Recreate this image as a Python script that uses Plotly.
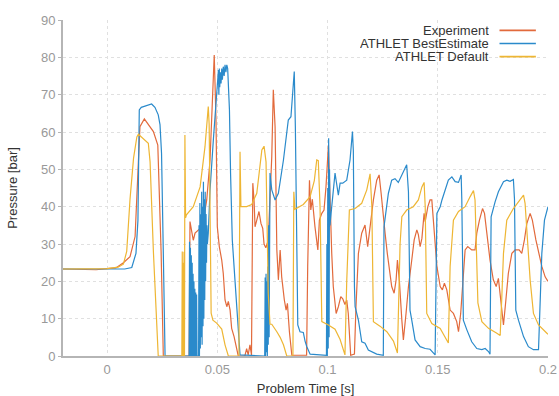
import plotly.graph_objects as go

# ---------------- data (time [s], pressure [bar]) ----------------
exp_t = [-0.02, -0.01, -0.005, 0.0, 0.004, 0.0074, 0.0104, 0.0127, 0.0135, 0.0142, 0.0149, 0.0169,
         0.0187, 0.0210, 0.0230, 0.0245, 0.0255, 0.0372, 0.0376, 0.0391, 0.0399, 0.0422, 0.0437,
         0.0452, 0.0467, 0.0475, 0.0486, 0.0494, 0.0500, 0.0509, 0.0520, 0.0527, 0.0535, 0.0543,
         0.0550, 0.0558, 0.0565, 0.0576, 0.0588, 0.0595, 0.0625, 0.0633, 0.0640, 0.0648, 0.0655,
         0.0661, 0.0667, 0.0671, 0.0679, 0.0689, 0.0698, 0.0706, 0.0712, 0.0720, 0.0731, 0.0739,
         0.0747, 0.0754, 0.0762, 0.0770, 0.0777, 0.0785, 0.0792, 0.0804, 0.0812, 0.0818, 0.0827,
         0.0838, 0.0905, 0.0910, 0.0918, 0.0924, 0.0931, 0.0943, 0.0956, 0.0963, 0.0974, 0.0984,
         0.0993, 0.1004, 0.1011, 0.1019, 0.1026, 0.1039, 0.1049, 0.1060, 0.1069, 0.1079, 0.1087,
         0.1094, 0.1105, 0.1122, 0.1129, 0.1140, 0.1155, 0.1170, 0.1182, 0.1193, 0.1208, 0.1223,
         0.1234, 0.1243, 0.1251, 0.1261, 0.1271, 0.1280, 0.1291, 0.1302, 0.1311, 0.1317, 0.1326,
         0.1337, 0.1344, 0.1356, 0.1367, 0.1382, 0.1393, 0.1405, 0.1412, 0.1420, 0.1428, 0.1438,
         0.1443, 0.1455, 0.1465, 0.1473, 0.1480, 0.1496, 0.1511, 0.1521, 0.1530, 0.1541, 0.1556,
         0.1571, 0.1586, 0.1594, 0.1604, 0.1614, 0.1624, 0.1636, 0.1654, 0.1669, 0.1677, 0.1689,
         0.1703, 0.1712, 0.1722, 0.1737, 0.1752, 0.1765, 0.1775, 0.1787, 0.1798, 0.1809, 0.1820,
         0.1836, 0.1851, 0.1869, 0.1881, 0.1893, 0.1904, 0.1919, 0.1929, 0.1945, 0.1957, 0.1972,
         0.1987, 0.2000]
exp_p = [23.3, 23.2, 23.1, 23.4, 23.6, 25.0, 26.6, 32.0, 42.0, 54.3, 61.4, 63.5,
         61.9, 60.1, 56.5, 28.0, 0.0, 0.0, 36.0, 31.0, 32.9, 34.2, 36.4,
         41.8, 52.5, 66.8, 80.6, 63.2, 34.6, 29.3, 25.7, 22.1, 15.0, 13.2,
         14.6, 12.3, 7.4, 5.2, 1.6, 0.0, 0.0, 2.0, 0.3, 3.0, 0.3,
         46.3, 41.3, 34.6, 36.4, 38.7, 35.5, 34.2, 30.0, 29.0, 31.0, 41.8,
         53.4, 71.3, 61.4, 28.4, 20.4, 28.4, 21.2, 15.0, 12.3, 14.1, 6.5,
         0.2, 0.2, 24.0, 47.1, 39.1, 42.0, 34.6, 28.4, 36.4, 38.2, 39.1,
         45.3, 56.5, 40.0, 27.5, 18.6, 11.4, 13.2, 15.9, 15.3, 13.8, 15.0,
         11.4, 0.2, 0.5, 13.2, 27.5, 32.9, 35.1, 29.3, 34.6, 41.8, 47.1,
         48.5, 43.6, 38.2, 32.9, 27.5, 23.0, 18.6, 16.8, 20.4, 25.7, 20.0,
         9.6, 4.3, 11.4, 18.6, 25.7, 31.1, 33.8, 32.5, 29.3, 31.5, 38.2,
         36.0, 40.0, 41.8, 41.8, 36.4, 24.0, 18.6, 17.7, 19.5, 17.7, 12.3,
         11.4, 9.2, 6.5, 11.4, 19.5, 28.4, 29.3, 28.4, 28.4, 32.9, 36.4,
         39.5, 38.2, 32.9, 25.7, 20.4, 18.6, 20.8, 13.2, 8.3, 15.0, 22.1,
         27.5, 28.4, 28.4, 27.5, 31.1, 35.5, 38.2, 36.4, 31.1, 27.5, 24.0,
         21.2, 20.0]

best_t = [-0.02, -0.01, 0.0, 0.008, 0.0112, 0.0131, 0.0140, 0.0146, 0.0155, 0.0180, 0.0202, 0.0217,
          0.0232, 0.0240, 0.0247, 0.0255, 0.0263, 0.0372,
          0.0374, 0.0376, 0.0378, 0.0380, 0.0382, 0.0384, 0.0386, 0.0388, 0.0390, 0.0392, 0.0394,
          0.0396, 0.0398, 0.0400, 0.0402, 0.0404, 0.0406, 0.0408, 0.0415,
          0.0417, 0.0419, 0.0421, 0.0423, 0.0425, 0.0427, 0.0429, 0.0431, 0.0433, 0.0435, 0.0437,
          0.0439, 0.0441, 0.0443, 0.0445, 0.0447, 0.0449, 0.0451, 0.0453, 0.0455, 0.0459, 0.0467,
          0.0482, 0.0497, 0.0505, 0.0507, 0.0509, 0.0511, 0.0514, 0.0517, 0.0520, 0.0523, 0.0527,
          0.0531, 0.0535, 0.0539, 0.0543, 0.0547, 0.0555, 0.0560, 0.0568, 0.0580, 0.0588, 0.0597,
          0.0603, 0.0715,
          0.0717, 0.0719, 0.0721, 0.0723, 0.0725, 0.0727, 0.0729, 0.0731, 0.0733, 0.0735, 0.0737,
          0.0739, 0.0747, 0.0762, 0.0777, 0.0800, 0.0822, 0.0834, 0.0845, 0.0849, 0.0854, 0.0860,
          0.0865, 0.0875, 0.0890, 0.0898, 0.0906, 0.0921, 0.0995,
          0.0997, 0.0999, 0.1001, 0.1003, 0.1005, 0.1007, 0.1009, 0.1011, 0.1019, 0.1034, 0.1039,
          0.1049, 0.1057, 0.1069, 0.1087, 0.1102, 0.1113, 0.1117, 0.1122, 0.1125, 0.1140, 0.1155,
          0.1170, 0.1185, 0.1223, 0.1253, 0.1256, 0.1266, 0.1276, 0.1291, 0.1306, 0.1321, 0.1337,
          0.1359, 0.1367, 0.1374, 0.1382, 0.1397, 0.1420, 0.1443, 0.1465, 0.1488, 0.1496, 0.1511,
          0.1519, 0.1533, 0.1548, 0.1564, 0.1579, 0.1594, 0.1606, 0.1609, 0.1616, 0.1632, 0.1654,
          0.1677, 0.1700, 0.1715, 0.1730, 0.1737, 0.1742, 0.1760, 0.1775, 0.1798, 0.1813, 0.1828,
          0.1843, 0.1848, 0.1854, 0.1866, 0.1889, 0.1911, 0.1934, 0.1957, 0.1964, 0.1972, 0.1984,
          0.2000]
best_p = [23.3, 23.3, 23.2, 23.3, 23.7, 27.5, 36.4, 65.9, 66.6, 67.0, 67.5, 66.6,
          64.6, 62.0, 54.3, 27.6, 0.0, 0.0,
          30.6, 0.0, 29.0, 0.0, 27.0, 0.0, 25.0, 0.0, 22.0, 0.0, 20.0,
          0.0, 18.0, 0.0, 17.0, 0.0, 16.5, 0.0, 0.0,
          35.0, 0.0, 41.0, 2.0, 38.0, 5.0, 44.0, 3.0, 40.0, 8.0, 46.7,
          10.0, 42.0, 15.0, 44.0, 20.0, 38.0, 25.0, 35.0, 30.0, 32.9, 44.5,
          57.9, 71.3, 76.6, 70.0, 77.0, 72.0, 76.0, 73.0, 77.0, 74.0, 77.5,
          75.0, 78.0, 76.0, 78.0, 77.0, 66.0, 49.0, 31.0, 20.4, 13.2, 5.0,
          0.3, 0.0,
          21.0, 0.0, 22.0, 1.0, 20.0, 0.0, 24.0, 3.0, 35.0, 5.0, 45.0,
          49.0, 44.5, 41.8, 43.6, 52.5, 63.2, 64.1, 73.0, 76.2, 61.4, 25.7,
          8.3, 6.5, 6.3, 4.0, 2.5, 0.5, 0.2,
          30.0, 0.0, 45.0, 2.0, 58.3, 5.0, 50.0, 35.0, 40.0, 49.0, 47.0,
          43.1, 46.3, 46.3, 47.1, 52.5, 60.1, 55.0, 18.6, 13.2, 9.6, 3.8,
          3.4, 1.6, 0.5, 0.2, 34.6, 39.1, 43.6, 47.1, 47.5, 46.5, 48.5,
          51.2, 44.0, 12.3, 9.6, 4.3, 2.5, 2.0, 1.8, 0.3, 38.2, 40.0,
          41.8, 44.5, 47.1, 48.0, 46.7, 46.5, 48.5, 42.0, 9.6, 7.0, 3.8,
          2.0, 1.7, 2.0, 1.2, 0.5, 37.3, 41.3, 44.0, 46.7, 47.1, 46.8,
          47.3, 42.0, 12.3, 9.6, 5.2, 2.5, 1.7, 1.7, 13.2, 27.5, 36.4,
          40.0]

def_t = [-0.02, 0.0, 0.005, 0.0074, 0.0089, 0.0104, 0.0120, 0.0135, 0.0142, 0.0165, 0.0187, 0.0195,
         0.0210, 0.0232, 0.0339, 0.0341, 0.0343, 0.0345, 0.0347, 0.0349, 0.0351, 0.0353, 0.0356,
         0.0360, 0.0376, 0.0391, 0.0422, 0.0444, 0.0459, 0.0463, 0.0472, 0.0480, 0.0497, 0.0520,
         0.0535, 0.0543, 0.0550, 0.0598, 0.0600, 0.0601, 0.0602, 0.0603, 0.0607, 0.0633, 0.0656,
         0.0671, 0.0679, 0.0702, 0.0712, 0.0721, 0.0731, 0.0739, 0.0747, 0.0770, 0.0785, 0.0800,
         0.0815, 0.0843, 0.0844, 0.0845, 0.0847, 0.0852, 0.0890, 0.0921, 0.0940, 0.0951, 0.0958,
         0.0966, 0.0974, 0.1004, 0.1034, 0.1057, 0.1079, 0.1087, 0.1099, 0.1125, 0.1155, 0.1178,
         0.1193, 0.1201, 0.1208, 0.1238, 0.1269, 0.1299, 0.1317, 0.1329, 0.1337, 0.1359, 0.1389,
         0.1412, 0.1428, 0.1438, 0.1443, 0.1450, 0.1473, 0.1511, 0.1541, 0.1548, 0.1556, 0.1571,
         0.1594, 0.1624, 0.1647, 0.1662, 0.1669, 0.1682, 0.1700, 0.1730, 0.1768, 0.1783, 0.1790,
         0.1798, 0.1813, 0.1843, 0.1866, 0.1889, 0.1896, 0.1919, 0.1934, 0.1957, 0.1995, 0.2000]
def_p = [23.3, 23.4, 23.8, 24.6, 28.0, 42.0, 53.0, 58.7, 59.4, 58.3, 57.0, 52.0,
         28.0, 0.0, 0.0, 28.0, 0.0, 25.0, 0.0, 27.9, 0.0, 59.2, 37.0,
         37.8, 39.0, 40.0, 45.3, 56.0, 66.8, 62.0, 11.5, 9.6, 8.8, 7.2,
         3.0, 1.0, 0.0, 0.0, 35.0, 0.0, 42.0, 54.7, 40.0, 40.0, 40.6,
         42.7, 43.6, 55.2, 56.2, 52.0, 16.8, 8.5, 8.5, 6.5, 5.0, 3.0,
         0.0, 0.0, 30.0, 0.0, 44.0, 39.3, 40.6, 42.7, 47.0, 52.5, 52.3,
         40.0, 9.2, 8.3, 7.2, 4.4, 0.3, 20.0, 39.1, 39.5, 40.9, 44.5,
         48.8, 40.0, 9.2, 8.0, 6.5, 4.0, 0.8, 30.0, 37.3, 39.1, 40.0,
         41.8, 45.3, 46.5, 40.0, 11.4, 8.7, 7.4, 4.0, 3.5, 24.0, 36.4,
         38.7, 40.0, 42.7, 44.3, 41.8, 14.2, 9.2, 7.4, 6.1, 5.5, 15.0,
         27.5, 36.4, 39.5, 41.3, 43.1, 40.9, 20.4, 11.4, 8.3, 6.1, 5.8]

x_ticks = [0, 0.05, 0.1, 0.15, 0.2]
x_labels = ["0", "0.05", "0.1", "0.15", "0.2"]
y_ticks = [0, 10, 20, 30, 40, 50, 60, 70, 80, 90]

series_names = ["Experiment", "ATHLET BestEstimate", "ATHLET Default"]
series_colors = ["#E26A3C", "#2A8ACB", "#EEB634"]

FONT = "Liberation Sans, Arial, Helvetica, sans-serif"

fig = go.Figure()
for name, t, p, c in zip(series_names, [exp_t, best_t, def_t], [exp_p, best_p, def_p], series_colors):
    fig.add_trace(go.Scatter(x=t, y=p, mode="lines", name=name,
                             line=dict(color=c, width=1.2), showlegend=False))

# custom legend: right-aligned text followed by a line sample
legend_y = [0.969, 0.930, 0.891]
for name, c, ly in zip(series_names, series_colors, legend_y):
    fig.add_annotation(xref="paper", yref="paper", x=0.882, y=ly, text=name,
                       showarrow=False, xanchor="right", yanchor="middle", height=13,
                       font=dict(family=FONT, size=13, color="#333333"))
    fig.add_shape(type="line", xref="paper", yref="paper", x0=0.9, x1=0.975, y0=ly, y1=ly,
                  line=dict(color=c, width=1.6))

fig.update_layout(
    width=559, height=396,
    margin=dict(l=63, r=11, t=20, b=40),
    paper_bgcolor="white", plot_bgcolor="white",
    font=dict(family=FONT, size=13, color="#999999"),
)
fig.update_xaxes(range=[-0.02, 0.2], tickvals=x_ticks, ticktext=x_labels, automargin=False,
                 showgrid=True, gridcolor="#e0e0e0", griddash="dot", gridwidth=1,
                 showline=True, linecolor="#b5b5b5", linewidth=2, zeroline=False,
                 ticks="", ticklabeloverflow="allow", tickfont=dict(size=13, color="#999999"),
                 title=dict(text="Problem Time [s]", standoff=12,
                            font=dict(size=13, color="#333333")))
fig.update_yaxes(range=[0, 90], tickvals=y_ticks, automargin=False,
                 showgrid=True, gridcolor="#e0e0e0", griddash="dot", gridwidth=1,
                 showline=True, linecolor="#b5b5b5", linewidth=2, zeroline=False,
                 ticks="outside", ticklen=3, tickcolor="#b5b5b5",
                 tickfont=dict(size=13, color="#999999"),
                 title=dict(text="Pressure [bar]", standoff=20,
                            font=dict(size=13, color="#333333")))

# remove the browser's default 8px page margin so the figure fills the window exactly
fig.write_html("out.html", config={"displayModeBar": False},
               post_script="document.body.style.margin='0';document.body.style.overflow='hidden';")
